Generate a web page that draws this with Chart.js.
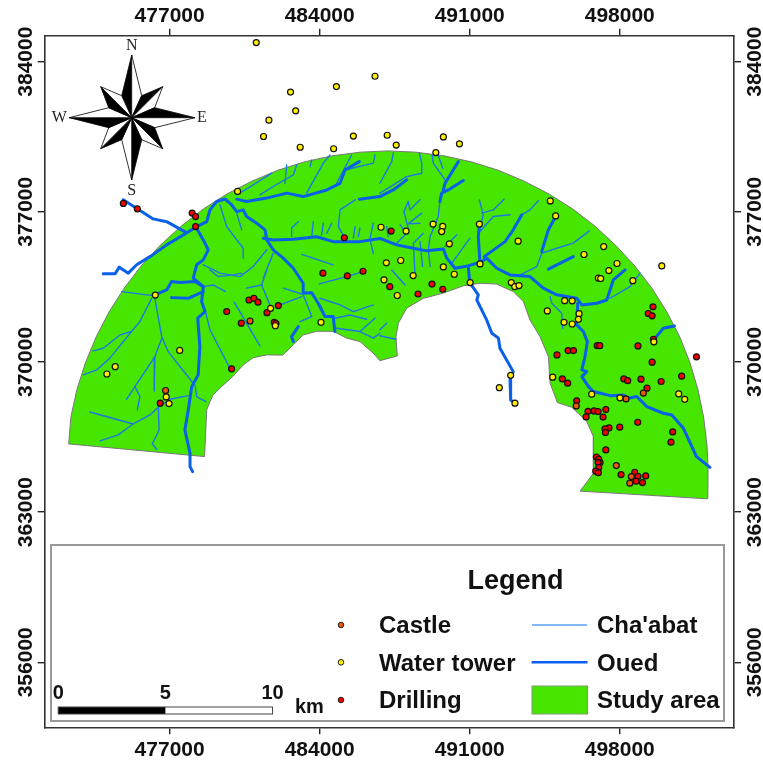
<!DOCTYPE html>
<html><head><meta charset="utf-8"><title>Study area map</title>
<style>html,body{margin:0;padding:0;background:#fff}canvas{display:block}</style>
<script src="https://cdn.jsdelivr.net/npm/chart.js@4"></script></head><body>
<canvas id="c" width="763" height="763"></canvas>
<script>
// Map coordinates in km (easting, northing pairs)
const xTicks=[477000,484000,491000,498000];
const yTicks=[356000,363000,370000,377000,384000];
const xRange=[471170,503330];
const yRange=[352970,385210];
const waterTower=[481.04,384.89,486.58,383.32,484.78,382.84,482.64,382.58,482.88,381.71,481.63,381.27,481.38,380.51,485.57,380.53,483.09,380.01,484.65,379.94,480.17,377.95,487.15,380.57,487.57,380.11,489.77,380.49,490.52,380.17,489.42,379.76,494.76,377.51,495.01,376.81,491.45,376.43,489.29,376.43,489.74,376.32,489.69,376.08,488.03,376.10,486.86,376.28,490.05,375.51,493.26,375.63,496.33,375.01,497.25,375.38,497.87,374.59,497.49,374.26,499.96,374.48,491.48,374.57,489.77,374.43,490.28,374.09,488.36,374.03,487.78,374.73,487.11,374.62,497.00,373.91,497.11,373.89,476.33,373.12,477.47,370.54,474.46,369.78,474.07,369.44,476.84,368.37,476.97,368.06,481.71,372.50,481.93,371.69,484.06,371.85,487.00,373.83,487.62,373.10,491.02,373.70,492.94,373.70,493.10,373.51,493.30,373.56,498.61,373.79,495.43,372.86,495.78,372.85,494.62,372.38,496.10,372.25,496.07,371.99,495.40,371.85,495.78,371.77,499.59,370.94,492.91,369.38,492.38,368.80,493.11,368.08,494.87,369.29,496.69,368.50,498.01,368.33,500.75,368.51,501.03,368.26];
const drilling=[474.84,377.39,475.49,377.14,478.05,376.94,478.21,376.78,478.21,376.31,485.15,375.79,484.15,374.14,485.29,374.01,486.02,374.23,487.33,376.10,480.70,372.89,480.93,372.97,481.12,372.79,479.66,372.35,481.54,372.30,482.07,372.63,480.34,371.81,481.88,371.85,481.96,371.79,479.89,369.68,476.56,368.08,487.27,373.51,488.59,373.17,489.24,373.63,489.74,373.39,499.55,372.57,499.33,372.26,499.51,372.15,499.57,371.06,498.85,370.75,496.95,370.76,497.07,370.76,495.59,370.53,495.84,370.53,495.07,370.33,501.58,370.24,499.51,369.99,498.19,369.21,498.37,369.13,498.99,369.20,499.93,369.09,500.89,369.34,495.32,369.21,495.57,369.01,499.27,368.78,495.99,368.19,497.35,367.78,496.52,367.70,496.80,367.72,496.99,367.69,497.22,367.43,496.43,367.44,498.84,367.19,498.00,366.96,497.50,366.93,497.31,366.88,497.33,366.71,500.47,366.74,500.39,366.26,497.35,365.90,496.91,365.57,497.02,365.47,497.08,365.31,496.99,365.31,497.02,365.08,496.88,364.91,497.00,364.84,498.06,364.75,498.70,364.86,498.85,364.67,499.21,364.69,498.76,364.44,499.06,364.38];
const castle=[480.75,371.91,476.81,368.67,495.97,367.95,498.29,368.28,499.10,368.55,497.84,365.17,498.54,364.66,498.47,364.35];
const studyArea=[472.29,366.18,478.63,365.59,478.73,367.77,478.88,368.15,479.03,368.47,479.42,368.85,479.97,369.35,480.43,369.86,480.90,370.20,481.53,370.33,482.27,370.32,482.77,370.80,483.23,371.26,483.86,371.43,484.63,371.43,485.26,371.11,485.88,370.95,486.50,370.41,486.81,370.06,487.62,370.28,487.56,371.18,487.67,371.81,488.06,372.51,488.84,372.97,489.77,373.21,490.70,373.55,491.48,373.67,492.26,373.63,493.03,373.28,493.50,372.82,493.81,371.96,494.28,371.18,494.67,370.25,494.75,369.01,495.09,368.11,495.76,367.89,496.46,367.22,496.77,366.52,496.77,365.43,496.77,364.81,496.15,363.98,502.11,363.62,502.12,365.11,502.07,366.13,501.91,367.44,501.65,368.70,501.28,369.96,500.80,371.17,500.20,372.33,499.50,373.44,498.70,374.48,497.81,375.44,496.85,376.33,495.81,377.13,494.70,377.83,493.54,378.43,492.33,378.94,491.07,379.33,489.80,379.61,488.49,379.78,487.19,379.84,485.88,379.78,484.58,379.61,483.30,379.33,482.05,378.94,480.84,378.43,479.67,377.83,478.57,377.13,477.53,376.33,476.56,375.44,475.67,374.48,474.88,373.44,474.17,372.33,473.57,371.17,473.07,369.96,472.67,368.71,472.39,367.43,472.29,366.18];
const oued=[
[474.83,377.56,475.49,377.14,476.23,376.67,476.86,376.54,477.79,376.03],
[473.90,374.11,474.45,374.11,474.65,374.42,475.07,374.14,475.46,374.53,476.08,374.91,476.86,375.46,477.63,375.92,478.26,376.31,478.73,376.54,478.88,377.09,479.19,377.48,479.58,377.60,479.89,377.32,480.13,377.01,480.43,377.09,480.59,376.78,481.06,376.47,481.45,376.16,481.53,375.69,481.83,375.23,482.30,374.84,482.77,374.37,483.23,373.67,483.23,373.21,483.63,373.23,483.93,372.74,484.25,372.12,484.63,372.12,484.71,371.42],
[481.37,375.77,481.83,375.69,482.77,375.72,483.86,375.84,484.63,375.61,485.15,375.61,485.88,375.61,486.81,375.76,487.59,375.46,488.37,375.30,488.99,375.18,489.77,375.27,489.93,374.84,490.31,374.37,490.93,374.48,491.56,374.68,491.79,374.84,492.26,374.37,492.88,374.06,493.81,373.98,494.43,373.44,495.06,373.13,495.99,372.97,496.23,372.66,496.93,372.74,497.39,372.89,497.55,373.36,497.70,373.83,498.25,374.29],
[496.04,372.74,495.99,371.73,496.30,371.42,496.49,370.95,496.38,370.25,496.23,369.63,496.46,369.55,496.23,369.32,496.54,368.85,496.77,368.62,497.55,368.43,498.17,368.46,498.40,368.31,498.79,368.39,499.26,367.92,500.03,367.61,500.43,367.53,500.97,366.91,501.58,365.59,502.21,365.09],
[500.55,371.68,500.03,371.57,499.65,371.11],
[495.01,376.78,494.67,376.16,494.36,375.15],
[494.67,374.33,495.83,374.91],
[491.68,374.91,492.65,375.61,493.03,376.16,493.43,376.86],
[491.48,374.57,491.40,375.84,491.45,376.47],
[490.70,378.46,490.00,378.02,489.69,377.87,489.61,377.48],
[490.47,379.34,489.85,378.33,489.77,378.02],
[485.85,377.59,486.81,377.71,487.43,378.02,488.06,378.49],
[480.13,377.59,480.59,377.48,481.53,377.64,482.46,377.87,483.23,377.71,484.33,378.02,484.95,378.33,485.18,378.95,485.85,379.34],
[476.31,373.13,476.86,373.36,477.09,373.75,477.48,373.70,478.18,373.75,478.57,373.51],
[477.09,373.00,477.87,372.97,478.57,373.28],
[478.21,376.31,478.57,375.69,478.80,375.23,478.57,374.76,478.26,374.53,478.10,373.91,478.57,373.51,478.49,372.82,478.65,372.35,478.31,372.04,478.41,370.72,478.33,369.40,478.03,368.85,477.87,367.77,477.71,366.83,477.95,365.75,477.95,365.12,478.07,364.89],
[490.93,374.48,491.00,373.70,491.40,373.13,491.33,372.89,491.79,371.96,492.03,371.34,492.34,371.11,492.41,370.64,493.03,369.55,492.88,369.16,492.91,368.23,493.11,368.08],
[483.00,371.65,482.69,371.18,482.77,370.95]
];
const chaabat=[
[474.76,373.28,476.31,373.08],[476.16,372.97,475.61,371.88,475.22,371.42,474.68,371.26,473.90,370.64,473.43,370.52],[475.22,371.42,474.21,370.18,473.59,369.63,472.97,369.40],[476.31,372.97,476.63,371.18,476.93,370.48,478.10,369.01],[476.63,371.11,476.31,370.25,475.38,368.85,474.99,368.26],[476.31,370.25,476.28,368.65],[475.38,368.85,475.61,368.39,475.49,367.77],[477.87,368.43,477.01,368.26,476.47,367.89,476.08,367.53,475.30,367.11,473.28,367.67],[475.30,367.11,474.60,366.60,473.75,366.32],[476.47,367.89,476.51,366.83,476.19,366.18,476.39,365.93],[478.18,368.93,478.26,368.39,478.69,368.15],[478.57,373.51,479.03,373.59,479.61,373.28],[478.65,372.43,478.88,371.50,479.81,369.71],[480.01,372.79,481.21,370.75],[482.07,372.63,483.16,373.05],[482.30,373.44,483.16,373.17],[480.59,373.44,481.29,373.59,481.68,372.66],[481.29,373.59,481.53,374.29],[478.88,374.29,479.27,373.98,479.97,374.06,480.36,374.14],[484.01,372.97,484.95,372.66,485.57,372.35,486.50,372.66],[484.71,372.04,485.41,372.19,486.19,371.99],[484.79,371.57,485.88,371.42,486.58,372.04],[485.88,371.42,486.50,371.11,486.81,371.34],[483.23,373.13,483.63,372.12,483.08,371.88],[483.98,373.64,485.26,373.98,486.02,374.21],[479.35,377.32,479.66,376.31,480.43,375.30,480.43,374.84],[480.13,376.94,480.36,376.16],[481.53,375.23,480.90,374.45,480.28,373.98,479.35,374.14,478.57,374.53],[481.83,375.07,481.37,373.91],[483.16,375.02,484.63,374.53],[485.65,377.56,484.95,377.09,484.87,376.31,485.13,375.84],[482.69,375.84,482.69,376.24,483.00,376.54],[483.63,375.84,483.70,376.54],[484.09,375.92,484.17,376.47],[484.33,376.00,484.56,376.47],[485.57,375.77,485.65,376.31],[485.80,375.84,485.88,376.24],[486.35,375.77,486.50,376.47],[486.35,375.69,486.50,375.07],[483.39,377.87,484.17,379.27],[481.21,377.79,481.83,378.18,482.77,378.72,482.93,379.19],[480.13,377.79,480.90,378.26,481.76,378.80],[482.38,378.33,482.46,379.19],[483.55,379.11,483.63,379.42],[484.17,379.27,484.48,379.65],[484.79,378.33,485.49,379.65],[485.18,378.95,486.50,379.27,486.58,379.65],[486.81,378.33,487.36,379.34,487.44,379.76],[486.81,377.87,488.06,378.64,488.76,378.80,488.76,379.27,488.65,379.73],[489.25,379.65,489.30,379.27,489.85,378.49],[489.53,379.65,489.74,379.03],[489.61,377.48,489.53,376.78,489.15,375.84,489.07,375.23,489.15,374.45],[488.68,377.56,488.21,377.09,488.13,377.48,487.93,377.01,488.13,376.24],[488.76,376.94,488.13,376.44,488.68,376.47],[487.75,376.39,488.06,376.00,487.59,375.54],[487.13,376.31,487.19,375.84],[488.83,376.00,488.37,375.54,488.45,373.98],[488.68,375.61,488.80,374.45],[490.39,375.92,489.85,375.38],[491.01,375.77,490.16,374.60],[491.45,377.56,491.63,376.86,491.40,375.84],[491.48,376.08,492.10,376.78,492.88,376.86],[491.56,376.94,492.10,377.09,492.60,377.59],[493.43,376.86,493.81,377.09,494.20,377.52],[494.36,375.07,495.06,375.30,495.83,375.54,496.58,376.11],[494.36,375.07,494.13,374.45,493.35,374.06],[498.95,374.14,498.48,373.51,497.55,372.97],[494.75,373.05,494.83,372.74,495.29,372.27,495.34,371.57],[487.36,374.29,487.98,373.59],[487.13,371.81,486.81,371.50],[486.81,371.22,487.55,371.06]
];
const legendTitle="Legend";
const legendLeft=["Castle","Water tower","Drilling"];
const legendRight=["Cha'abat","Oued","Study area"];
const scaleLabels=[0,5,10];
const scaleStartMetres=471800;
const compassLabels=["N","E","S","W"];
const GREEN="#47e600",THIN="#1f76e4",THICK="#0a60e6",ORANGE="#e8590c",YEL="#ffee00",RED="#f00000";

const pts=a=>{const o=[];for(let i=0;i<a.length;i+=2)o.push({x:a[i]*1000,y:a[i+1]*1000});return o;};
const lineDs=(a,color,w,order)=>({data:pts(a),showLine:true,borderColor:color,borderWidth:w,pointRadius:0,pointHoverRadius:0,fill:false,order,borderJoinStyle:'round',borderCapStyle:'round'});
const dotDs=(a,color,order)=>({data:pts(a),showLine:false,pointRadius:3,pointHoverRadius:3,pointBackgroundColor:color,pointBorderColor:"#111",pointBorderWidth:1.2,order});

const datasets=[
 {data:pts(studyArea),showLine:true,borderColor:"#777",borderWidth:1,backgroundColor:GREEN,fill:'shape',pointRadius:0,order:9},
 ...chaabat.map(a=>lineDs(a,THIN,1.4,8)),
 ...oued.map(a=>lineDs(a,THICK,3,7)),
 dotDs(drilling,RED,6),
 dotDs(castle,ORANGE,5),
 dotDs(waterTower,YEL,4)
];

const FONT='"Liberation Sans",Arial,sans-serif';
const overlay={id:'overlay',afterDraw(ch){
 const c=ch.ctx,xs=ch.scales.x;
 c.save();
 // legend frame
 c.fillStyle="#fff";c.strokeStyle="#999";c.lineWidth=2;
 c.fillRect(51,545,673,176);c.strokeRect(51,545,673,176);
 c.fillStyle="#111";c.textAlign="left";c.textBaseline="alphabetic";
 c.font='bold 27px '+FONT;c.fillText(legendTitle,467.5,589);
 c.font='bold 24px '+FONT;
 const rowsT=[632.7,670.7,708],rowsM=[625,662.3,700],dots=[ORANGE,YEL,RED];
 legendLeft.forEach((t,i)=>{
  c.fillStyle="#111";c.fillText(t,379,rowsT[i]);
  c.beginPath();c.arc(341,rowsM[i],2.8,0,7);c.fillStyle=dots[i];c.fill();c.lineWidth=1;c.strokeStyle="#222";c.stroke();
 });
 c.fillStyle="#111";legendRight.forEach((t,i)=>c.fillText(t,597,rowsT[i]));
 c.lineWidth=1.5;c.strokeStyle="#5aa2fa";c.beginPath();c.moveTo(532,625);c.lineTo(587,625);c.stroke();
 c.lineWidth=2.5;c.strokeStyle="#0a60f0";c.beginPath();c.moveTo(531.5,662.3);c.lineTo(587.5,662.3);c.stroke();
 c.fillStyle=GREEN;c.strokeStyle="#7a9a70";c.lineWidth=1;c.fillRect(532,686,55.5,28);c.strokeRect(532,686,55.5,28);
 // scale bar
 const x0=xs.getPixelForValue(scaleStartMetres),kmPx=v=>x0+(xs.getPixelForValue(scaleStartMetres+v*1000)-x0);
 c.fillStyle="#000";c.fillRect(kmPx(0),707,kmPx(5)-kmPx(0),7);
 c.strokeStyle="#444";c.lineWidth=1;c.strokeRect(kmPx(0),707,kmPx(10)-kmPx(0),7);
 c.font='bold 20px '+FONT;c.fillStyle="#111";c.textAlign="center";
 scaleLabels.forEach(v=>c.fillText(String(v),kmPx(v),699));
 c.textAlign="left";c.fillText("km",295,713.3);
 // compass
 const cx=131.7,cy=117.7;
 const tips=[[0,-62.7],[31,-31],[63.3,0],[31,31],[0,62.3],[-31,31],[-62.4,0],[-31,-31]];
 const notch=[[10,-22],[23,-10],[23,10],[10,22],[-10,22],[-23,10],[-23,-10],[-10,-22]];
 for(let i=0;i<8;i++){
  const t=tips[i],nCCW=notch[(i+7)%8],nCW=notch[i];
  c.beginPath();c.moveTo(cx,cy);c.lineTo(cx+nCCW[0],cy+nCCW[1]);c.lineTo(cx+t[0],cy+t[1]);c.closePath();
  c.fillStyle="#000";c.fill();c.strokeStyle="#000";c.lineWidth=.8;c.stroke();
  c.beginPath();c.moveTo(cx,cy);c.lineTo(cx+nCW[0],cy+nCW[1]);c.lineTo(cx+t[0],cy+t[1]);c.closePath();
  c.fillStyle="#fff";c.fill();c.stroke();
 }
 c.font='16px "Liberation Serif",serif';c.fillStyle="#222";c.textAlign="center";c.textBaseline="middle";
 c.fillText(compassLabels[0],cx,45.5);c.fillText(compassLabels[1],202,118);c.fillText(compassLabels[2],cx,190.5);c.fillText(compassLabels[3],59.3,118);
 c.restore();
}};

const tickFont={family:FONT,size:21,weight:'bold'};
const gridOpt={drawOnChartArea:false,tickLength:7,color:"#222",lineWidth:1.4};
const borderOpt={display:true,color:"#333",width:1.6};
const xAxis=(pos,size,pad)=>({type:'linear',position:pos,min:xRange[0],max:xRange[1],
  afterBuildTicks:s=>{s.ticks=xTicks.map(v=>({value:v}));},
  afterFit:s=>{s.height=size;},
  grid:gridOpt,border:borderOpt,
  ticks:{color:"#111",font:tickFont,padding:pad,maxRotation:0,minRotation:0,callback:v=>String(v)}});
const yAxis=(pos,size,pad)=>({type:'linear',position:pos,min:yRange[0],max:yRange[1],
  afterBuildTicks:s=>{s.ticks=yTicks.map(v=>({value:v}));},
  afterFit:s=>{s.width=size;},
  grid:gridOpt,border:borderOpt,
  ticks:{color:"#111",font:tickFont,padding:pad,minRotation:90,maxRotation:90,crossAlign:'center',callback:v=>String(v)}});

new Chart(document.getElementById('c'),{
 type:'scatter',
 data:{datasets},
 options:{responsive:false,animation:false,events:[],
  layout:{padding:0},
  plugins:{legend:{display:false},tooltip:{enabled:false},title:{display:false}},
  scales:{
   x:xAxis('bottom',35.7,3),
   x2:xAxis('top',35.7,0),
   y:yAxis('left',44.7,-24),
   y2:yAxis('right',29,-21)
  }},
 plugins:[overlay]
});
</script></body></html>
